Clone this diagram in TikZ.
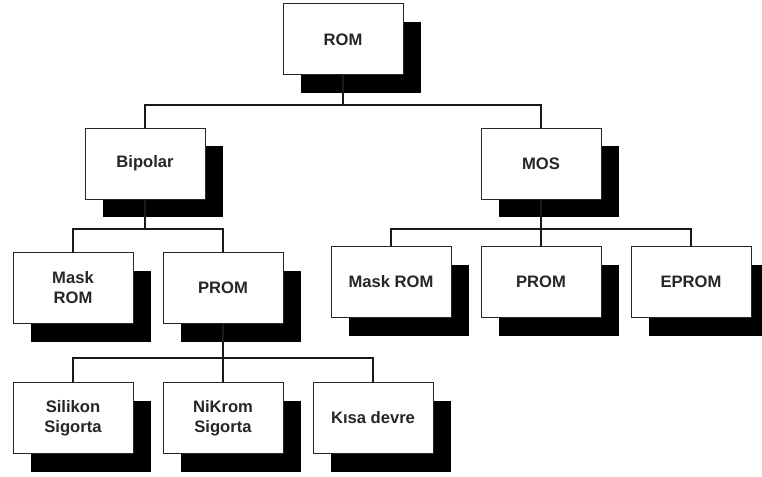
\documentclass[tikz,border=0pt]{standalone}
\usepackage{fontspec}
\setmainfont{Liberation Sans}
\usetikzlibrary{shadows}
\begin{document}
\begin{tikzpicture}[x=1pt,y=-1pt,
  box/.style={draw=black!85,line width=1pt,fill=white,minimum width=120pt,minimum height=71pt,
    inner sep=2pt,align=center,text=black!85,font=\fontsize{16.6}{20}\selectfont\bfseries,
    drop shadow={shadow xshift=18pt,shadow yshift=-18pt,fill=black,opacity=1}},
  conn/.style={draw=black!90,line width=1.4pt}]
\useasboundingbox (0,0) rectangle (762,476);
\node[box] (rom) at (343,39.5) {ROM};
\node[box] (bip) at (145,163.5) {Bipolar};
\node[box] (mos) at (541,163.5) {MOS};
\node[box] (lmask) at (73,288) {Mask\\ROM};
\node[box] (lprom) at (223,288) {PROM};
\node[box] (sil) at (73,418) {Silikon\\Sigorta};
\node[box] (nik) at (223,418) {NiKrom\\Sigorta};
\node[box] (kisa) at (373,418) {Kısa devre};
\node[box] (rmask) at (391,282) {Mask ROM};
\node[box] (rprom) at (541,282) {PROM};
\node[box] (eprom) at (691,282) {EPROM};
\coordinate (h1) at (343,105);
\coordinate (h2) at (145,229);
\coordinate (h3) at (541,229);
\coordinate (h4) at (223,358);
\draw[conn] (rom.south) -- (h1);
\draw[conn] (bip.north) -- (bip.north |- h1) -- (mos.north |- h1) -- (mos.north);
\draw[conn] (bip.south) -- (h2);
\draw[conn] (lmask.north) -- (lmask.north |- h2) -- (lprom.north |- h2) -- (lprom.north);
\draw[conn] (mos.south) -- (h3);
\draw[conn] (rmask.north) -- (rmask.north |- h3) -- (eprom.north |- h3) -- (eprom.north);
\draw[conn] (h3) -- (rprom.north);
\draw[conn] (lprom.south) -- (h4);
\draw[conn] (sil.north) -- (sil.north |- h4) -- (kisa.north |- h4) -- (kisa.north);
\draw[conn] (h4) -- (nik.north);
\end{tikzpicture}
\end{document}
